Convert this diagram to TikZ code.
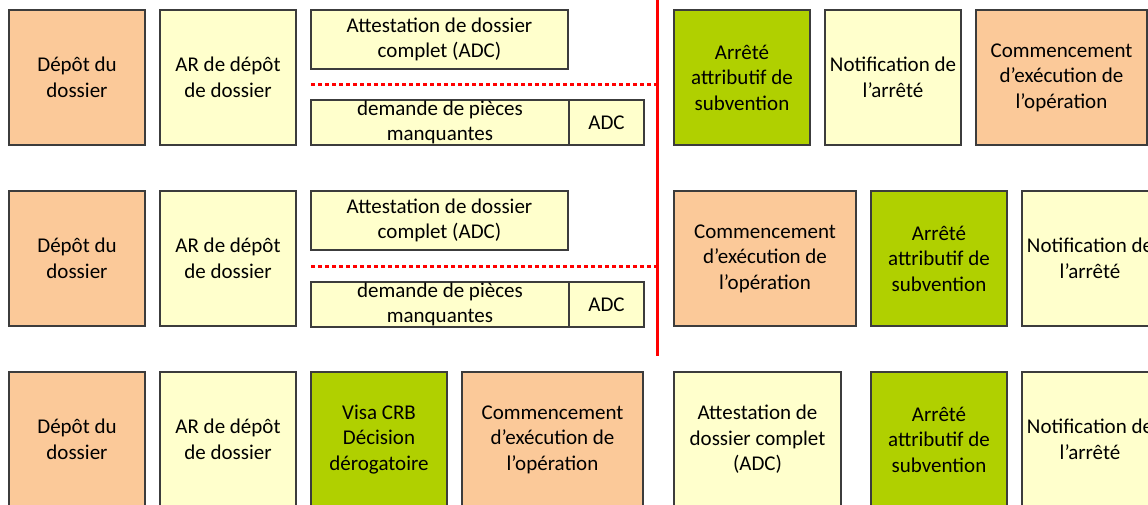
\documentclass[tikz,border=0pt]{standalone}
\usepackage{fontspec}
\setmainfont{Carlito}
\definecolor{peach}{RGB}{251,201,153}
\definecolor{paleyellow}{RGB}{255,255,204}
\definecolor{leafgreen}{RGB}{176,208,0}
\definecolor{edgegray}{RGB}{60,60,60}
\tikzset{
  box/.style={draw=edgegray, line width=1.2pt, inner sep=0pt, outer sep=0pt,
    align=center, anchor=north west, font=\fontsize{21}{25.5}\selectfont},
  peachbox/.style={box, fill=peach},
  yellowbox/.style={box, fill=paleyellow},
  greenbox/.style={box, fill=leafgreen},
  sq/.style={minimum width=136pt, minimum height=135pt},
  redline/.style={red, line width=3pt},
  reddots/.style={red, line width=3pt, dash pattern=on 3.5pt off 3.5pt}
}
\begin{document}
\begin{tikzpicture}[x=1pt,y=-1pt]
  \useasboundingbox (0,0) rectangle (1148,504);
  \clip (0,0) rectangle (1148,504);
  % first row
  \node[peachbox,sq] (depotA) at (9,10) {Dépôt du\\dossier};
  \node[yellowbox,sq] (arA) at (160,10) {AR de dépôt\\de dossier};
  \node[yellowbox,minimum width=257pt,minimum height=59pt] (adcA) at (311,10) {Attestation de dossier\\complet (ADC)};
  \node[yellowbox,minimum width=258pt,minimum height=45pt] (pmA) at (311,100) {demande de pièces\\manquantes};
  \node[yellowbox,minimum width=75pt,minimum height=45pt] (adcsA) at (pmA.north east) {ADC};
  \node[greenbox,sq] (arreteA) at (674,10) {Arrêté\\attributif de\\subvention};
  \node[yellowbox,sq] (notifA) at (825,10) {Notification de\\l’arrêté};
  \node[peachbox,minimum width=171pt,minimum height=135pt] (debutA) at (976,10) {Commencement\\d’exécution de\\l’opération};
  % second row
  \node[peachbox,sq] (depotB) at (9,191) {Dépôt du\\dossier};
  \node[yellowbox,sq] (arB) at (160,191) {AR de dépôt\\de dossier};
  \node[yellowbox,minimum width=257pt,minimum height=59pt] (adcB) at (311,191) {Attestation de dossier\\complet (ADC)};
  \node[yellowbox,minimum width=258pt,minimum height=45pt] (pmB) at (311,282) {demande de pièces\\manquantes};
  \node[yellowbox,minimum width=75pt,minimum height=45pt] (adcsB) at (pmB.north east) {ADC};
  \node[peachbox,minimum width=182pt,minimum height=135pt] (debutB) at (674,191) {Commencement\\d’exécution de\\l’opération};
  \node[greenbox,sq] (arreteB) at (871,191) {Arrêté\\attributif de\\subvention};
  \node[yellowbox,sq] (notifB) at (1022,191) {Notification de\\l’arrêté};
  % third row
  \node[peachbox,sq] (depotC) at (9,372) {Dépôt du\\dossier};
  \node[yellowbox,sq] (arC) at (160,372) {AR de dépôt\\de dossier};
  \node[greenbox,sq] (visaC) at (311,372) {Visa CRB\\Décision\\dérogatoire};
  \node[peachbox,minimum width=181pt,minimum height=135pt] (debutC) at (462,372) {Commencement\\d’exécution de\\l’opération};
  \node[yellowbox,minimum width=167pt,minimum height=135pt] (adcC) at (674,372) {Attestation de\\dossier complet\\(ADC)};
  \node[greenbox,sq] (arreteC) at (871,372) {Arrêté\\attributif de\\subvention};
  \node[yellowbox,sq] (notifC) at (1022,372) {Notification de\\l’arrêté};
  % red separators
  \coordinate (cutTop) at (657,0);
  \coordinate (cutBot) at (657,356);
  \coordinate (dotA) at (311,84);
  \coordinate (dotB) at (311,266);
  \draw[reddots] (dotA) -- (dotA -| cutTop);
  \draw[reddots] (dotB) -- (dotB -| cutTop);
  \draw[redline] (cutTop) -- (cutBot);
\end{tikzpicture}
\end{document}
